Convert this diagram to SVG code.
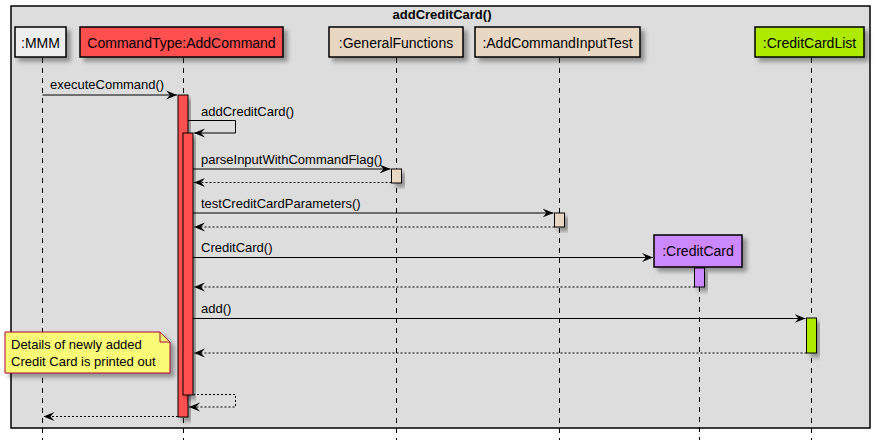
<svg xmlns="http://www.w3.org/2000/svg" width="877" height="440" viewBox="0 0 877 440">
<defs>
<filter id="sh" x="-20%" y="-20%" width="150%" height="160%">
<feDropShadow dx="4" dy="4" stdDeviation="2" flood-color="#000" flood-opacity="0.35"/>
</filter>
<marker id="ah" viewBox="0 0 12 10" refX="11" refY="5" markerWidth="12" markerHeight="10" markerUnits="userSpaceOnUse" orient="auto">
<polygon points="0,0.5 11,5 0,9.5 4,5" fill="#000"/>
</marker>
</defs>
<style>
text{font-family:"Liberation Sans",Arial,sans-serif;fill:#000}
.pt{font-size:14px;text-anchor:middle}
.msg{font-size:13px}
.box{stroke:#000;stroke-width:1.5;filter:url(#sh)}
.act{stroke:#000;stroke-width:1;filter:url(#sh)}
.life{stroke:#000;stroke-width:1;stroke-dasharray:5,5;fill:none}
.call{stroke:#000;stroke-width:1;fill:none;marker-end:url(#ah)}
.ret{stroke:#000;stroke-width:1;fill:none;stroke-dasharray:2,2;marker-end:url(#ah)}
</style>
<rect x="0" y="0" width="877" height="440" fill="#fff"/>
<rect x="11" y="6" width="859" height="422" fill="#DDDDDD" stroke="#000" stroke-width="1.5"/>
<text x="442" y="19" style="font-size:13px;font-weight:bold" text-anchor="middle">addCreditCard()</text>

<g id="lifelines">
<line class="life" x1="42.5" y1="58" x2="42.5" y2="440"/>
<line class="life" x1="183.5" y1="58" x2="183.5" y2="440"/>
<line class="life" x1="396.5" y1="58" x2="396.5" y2="440"/>
<line class="life" x1="559.5" y1="58" x2="559.5" y2="440"/>
<line class="life" x1="699.5" y1="267" x2="699.5" y2="440"/>
<line class="life" x1="811.5" y1="58" x2="811.5" y2="440"/>
</g>

<g id="p-mmm"><rect class="box" x="15" y="27" width="51" height="30" fill="#EEEEEE"/><text class="pt" x="40.5" y="48">:MMM</text></g>
<g id="p-addcommand"><rect class="box" x="80" y="27" width="203" height="30" fill="#FF5050"/><text class="pt" x="181.5" y="48">CommandType:AddCommand</text></g>
<g id="p-generalfunctions"><rect class="box" x="329" y="27" width="134" height="30" fill="#E8D7C3"/><text class="pt" x="396" y="48">:GeneralFunctions</text></g>
<g id="p-addcommandinputtest"><rect class="box" x="475" y="27" width="165" height="30" fill="#E8D7C3"/><text class="pt" x="557.5" y="48">:AddCommandInputTest</text></g>
<g id="p-creditcardlist"><rect class="box" x="755" y="27" width="109" height="30" fill="#AEEA00"/><text class="pt" x="809.5" y="48">:CreditCardList</text></g>
<g id="p-creditcard"><rect class="box" x="654" y="235" width="88" height="32" fill="#CC88FF"/><text class="pt" x="698" y="256">:CreditCard</text></g>

<g id="activations">
<rect class="act" x="178" y="95" width="10" height="322" fill="#FF5050"/>
<rect class="act" x="183" y="133" width="10" height="262" fill="#FF5050"/>
<rect class="act" x="391.5" y="169" width="10" height="14" fill="#E8D7C3"/>
<rect class="act" x="554.5" y="213" width="10" height="14" fill="#E8D7C3"/>
<rect class="act" x="694.5" y="268" width="10" height="19" fill="#CC88FF"/>
<rect class="act" x="806.5" y="318" width="10" height="35" fill="#AEEA00"/>
</g>

<g id="connectors">
<line class="call" x1="42.5" y1="95" x2="177" y2="95"/>
<text class="msg" x="50" y="89">executeCommand()</text>
<polyline class="call" points="188,120.5 235.5,120.5 235.5,133 194,133"/>
<text class="msg" x="201" y="116">addCreditCard()</text>
<line class="call" x1="193" y1="169" x2="390.5" y2="169"/>
<text class="msg" x="201" y="164">parseInputWithCommandFlag()</text>
<line class="ret" x1="391.5" y1="182.5" x2="194" y2="182.5"/>
<line class="call" x1="193" y1="213" x2="553.5" y2="213"/>
<text class="msg" x="201" y="208">testCreditCardParameters()</text>
<line class="ret" x1="554.5" y1="227" x2="194" y2="227"/>
<line class="call" x1="193" y1="257.5" x2="653" y2="257.5"/>
<text class="msg" x="201" y="252">CreditCard()</text>
<line class="ret" x1="694.5" y1="287" x2="194" y2="287"/>
<line class="call" x1="193" y1="318.5" x2="805.5" y2="318.5"/>
<text class="msg" x="201" y="313">add()</text>
<line class="ret" x1="806.5" y1="353" x2="194" y2="353"/>
<polyline class="ret" points="193,394.5 235.5,394.5 235.5,407 189,407"/>
<line class="ret" x1="178" y1="416.5" x2="43.5" y2="416.5"/>
</g>

<g id="note">
<path d="M5,332 L160,332 L170,342 L170,373 L5,373 Z" fill="#FBFB77" stroke="#A80036" stroke-width="1" filter="url(#sh)"/>
<path d="M160,332 L160,342 L170,342" fill="none" stroke="#A80036" stroke-width="1"/>
<text class="msg" x="11" y="349">Details of newly added</text>
<text class="msg" x="11" y="366">Credit Card is printed out</text>
</g>
</svg>
